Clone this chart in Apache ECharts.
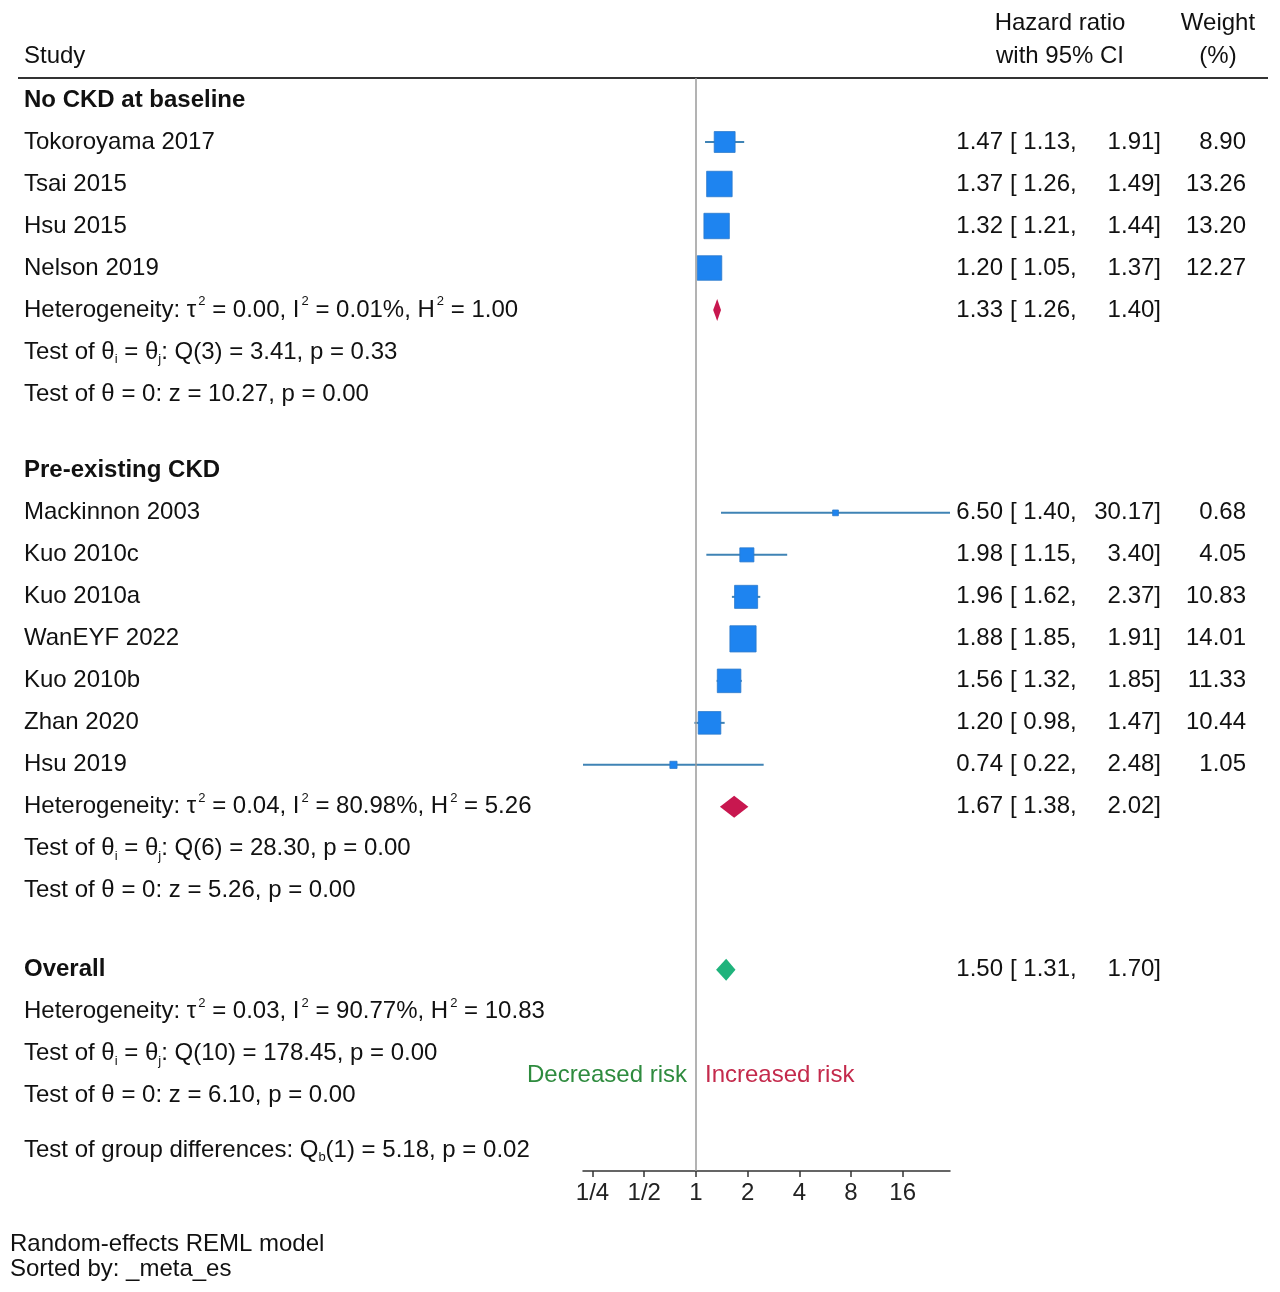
<!DOCTYPE html>
<html><head><meta charset="utf-8">
<script src="https://cdn.jsdelivr.net/npm/echarts@6/dist/echarts.min.js"></script>
<style>html,body{margin:0;padding:0;background:#fff}#c{width:1280px;height:1292px}</style>
</head><body><div id="c"></div>
<script>
// ---------- data ----------
const group1Name = 'No CKD at baseline';
const group1Studies = ['Tokoroyama 2017', 'Tsai 2015', 'Hsu 2015', 'Nelson 2019'];
const group1HR = [1.47, 1.37, 1.32, 1.20];
const group1Lo = [1.13, 1.26, 1.21, 1.05];
const group1Hi = [1.91, 1.49, 1.44, 1.37];
const group1W = [8.90, 13.26, 13.20, 12.27];
const group1Pooled = [1.33, 1.26, 1.40];

const group2Name = 'Pre-existing CKD';
const group2Studies = ['Mackinnon 2003', 'Kuo 2010c', 'Kuo 2010a', 'WanEYF 2022', 'Kuo 2010b', 'Zhan 2020', 'Hsu 2019'];
const group2HR = [6.50, 1.98, 1.96, 1.88, 1.56, 1.20, 0.74];
const group2Lo = [1.40, 1.15, 1.62, 1.85, 1.32, 0.98, 0.22];
const group2Hi = [30.17, 3.40, 2.37, 1.91, 1.85, 1.47, 2.48];
const group2W = [0.68, 4.05, 10.83, 14.01, 11.33, 10.44, 1.05];
const group2Pooled = [1.67, 1.38, 2.02];

const overallPooled = [1.50, 1.31, 1.70];

const group1Stats = [
  'Heterogeneity: τ{sup|2} = 0.00, I{sup|2} = 0.01%, H{sup|2} = 1.00',
  'Test of θ{sub|i} = θ{sub|j}: Q(3) = 3.41, p = 0.33',
  'Test of θ = 0: z = 10.27, p = 0.00'
];
const group2Stats = [
  'Heterogeneity: τ{sup|2} = 0.04, I{sup|2} = 80.98%, H{sup|2} = 5.26',
  'Test of θ{sub|i} = θ{sub|j}: Q(6) = 28.30, p = 0.00',
  'Test of θ = 0: z = 5.26, p = 0.00'
];
const overallStats = [
  'Heterogeneity: τ{sup|2} = 0.03, I{sup|2} = 90.77%, H{sup|2} = 10.83',
  'Test of θ{sub|i} = θ{sub|j}: Q(10) = 178.45, p = 0.00',
  'Test of θ = 0: z = 6.10, p = 0.00'
];
const groupDiffText = 'Test of group differences: Q{sub|b}(1) = 5.18, p = 0.02';

const tickValues = [0.25, 0.5, 1, 2, 4, 8, 16];
const tickLabels = ['1/4', '1/2', '1', '2', '4', '8', '16'];

// ---------- layout ----------
const FONT = '"Liberation Sans", Arial, Helvetica, sans-serif';
const FS = 24;
const rows = [];
let r = 0;
function add(o, gap) { r += (gap || 0); o.row = r; rows.push(o); r += 1; }

function addGroup(name, studies, hr, lo, hi, w, pooled, stats, gapBefore, poolColor) {
  add({ text: name, bold: true }, gapBefore);
  studies.forEach((s, i) => add({ text: s, study: { hr: hr[i], lo: lo[i], hi: hi[i], w: w[i] } }));
  add({ text: stats[0], pooled: pooled, color: poolColor });
  add({ text: stats[1] });
  add({ text: stats[2] });
}
addGroup(group1Name, group1Studies, group1HR, group1Lo, group1Hi, group1W, group1Pooled, group1Stats, 0, '#c8174f');
addGroup(group2Name, group2Studies, group2HR, group2Lo, group2Hi, group2W, group2Pooled, group2Stats, 0.83, '#c8174f');
add({ text: 'Overall', bold: true, pooled: overallPooled, color: '#1fb37c' }, 0.88);
add({ text: overallStats[0] });
add({ text: overallStats[1] });
add({ text: overallStats[2] });
add({ text: groupDiffText }, 0.29);

const allLo = group1Lo.concat(group2Lo), allHi = group1Hi.concat(group2Hi);
const xMin = Math.log2(Math.min.apply(null, allLo));
const xMax = Math.log2(Math.max.apply(null, allHi));
const ROWPX = 42, GRID_TOP = 78, GRID_H = 1093, ROW0 = 100;
const yMin = (GRID_TOP - ROW0) / ROWPX;
const yMax = yMin + GRID_H / ROWPX;

const studyData = rows.filter(o => o.study).map(o =>
  [Math.log2(o.study.hr), o.row, Math.log2(o.study.lo), Math.log2(o.study.hi), o.study.w]);
const pooledData = rows.filter(o => o.pooled).map(o => ({
  value: [Math.log2(o.pooled[0]), o.row, Math.log2(o.pooled[1]), Math.log2(o.pooled[2])],
  itemStyle: { color: o.color }
}));

const tickLog = tickValues.map(v => Math.log2(v));
const chart = echarts.init(document.getElementById('c'), null, { renderer: 'canvas' });

const option = {
  backgroundColor: '#fff',
  animation: false,
  grid: { left: 583, top: GRID_TOP, width: 367, height: GRID_H },
  xAxis: {
    type: 'value', min: xMin, max: xMax,
    axisLine: { show: true, onZero: false, lineStyle: { color: '#333', width: 1.5 } },
    axisTick: { show: true, customValues: tickLog, length: 6, lineStyle: { color: '#333', width: 1.5 } },
    axisLabel: {
      customValues: tickLog, margin: 10, fontSize: FS, color: '#222', fontFamily: FONT,
      formatter: v => { const i = tickLog.findIndex(t => Math.abs(t - v) < 1e-6); return i >= 0 ? tickLabels[i] : ''; }
    },
    splitLine: { show: false }
  },
  yAxis: { type: 'value', inverse: true, min: yMin, max: yMax, show: false },
  series: [
    {
      type: 'custom', name: 'studies', clip: false, data: studyData,
      encode: { x: [0, 2, 3], y: 1 },
      renderItem: (params, api) => {
        const y = api.value(1);
        const c = api.coord([api.value(0), y]);
        const l = api.coord([api.value(2), y]);
        const h = api.coord([api.value(3), y]);
        const s = 7 * Math.sqrt(api.value(4));
        return { type: 'group', children: [
          { type: 'line', shape: { x1: l[0], y1: l[1], x2: h[0], y2: h[1] }, style: { stroke: '#3f83b5', lineWidth: 2 } },
          { type: 'rect', shape: { x: c[0] - s / 2, y: c[1] - s / 2, width: s, height: s }, style: { fill: '#1e84f0', stroke: '#2a78cc', lineWidth: 0.8 } }
        ] };
      },
      markLine: {
        silent: true, symbol: 'none', label: { show: false },
        lineStyle: { color: '#9a9a9a', width: 1.5, type: 'solid' },
        data: [{ xAxis: 0 }]
      }
    },
    {
      type: 'custom', name: 'pooled', clip: false, data: pooledData,
      encode: { x: [0, 2, 3], y: 1 },
      renderItem: (params, api) => {
        const y = api.value(1);
        const c = api.coord([api.value(0), y]);
        const l = api.coord([api.value(2), y]);
        const h = api.coord([api.value(3), y]);
        const hh = 11;
        return { type: 'polygon', shape: { points: [[l[0], c[1]], [c[0], c[1] - hh], [h[0], c[1]], [c[0], c[1] + hh]] },
          style: { fill: api.visual('color') } };
      }
    }
  ]
};
chart.setOption(option);

const rich = {
  sup: { fontSize: 13, fontFamily: FONT, color: '#111', verticalAlign: 'top', lineHeight: 30, padding: [0, 0, 0, 2] },
  sub: { fontSize: 13, fontFamily: FONT, color: '#111', verticalAlign: 'bottom', lineHeight: 28 }
};
function txt(x, y, text, opts) {
  opts = opts || {};
  return {
    type: 'text', x: x, y: y, silent: true,
    style: {
      text: text, fill: opts.color || '#111', font: (opts.bold ? 'bold ' : '') + (opts.size || FS) + 'px ' + FONT,
      align: opts.align || 'left', verticalAlign: 'middle', rich: rich, lineHeight: 28
    }
  };
}
const g = [];
g.push(txt(24, 56, 'Study'));
g.push(txt(1060, 23, 'Hazard ratio', { align: 'center' }));
g.push(txt(1060, 56, 'with 95% CI', { align: 'center' }));
g.push(txt(1218, 23, 'Weight', { align: 'center' }));
g.push(txt(1218, 56, '(%)', { align: 'center' }));
g.push({ type: 'line', silent: true, shape: { x1: 18, y1: 78, x2: 1268, y2: 78 }, style: { stroke: '#333', lineWidth: 2 } });

rows.forEach(o => {
  const y = chart.convertToPixel({ yAxisIndex: 0 }, o.row);
  g.push(txt(24, y, o.text, { bold: o.bold }));
  const v = o.study ? [o.study.hr, o.study.lo, o.study.hi] : o.pooled;
  if (v) {
    g.push(txt(1003, y, v[0].toFixed(2), { align: 'right' }));
    g.push(txt(1010, y, '[ ' + v[1].toFixed(2) + ',', { align: 'left' }));
    g.push(txt(1161, y, v[2].toFixed(2) + ']', { align: 'right' }));
  }
  if (o.study) g.push(txt(1246, y, o.study.w.toFixed(2), { align: 'right' }));
});
g.push(txt(687, 1075, 'Decreased risk', { align: 'right', color: '#2e8b3e' }));
g.push(txt(705, 1075, 'Increased risk', { align: 'left', color: '#c42a4c' }));
g.push(txt(10, 1244, 'Random-effects REML model'));
g.push(txt(10, 1269, 'Sorted by: _meta_es'));
chart.setOption({ graphic: g });
</script></body></html>
